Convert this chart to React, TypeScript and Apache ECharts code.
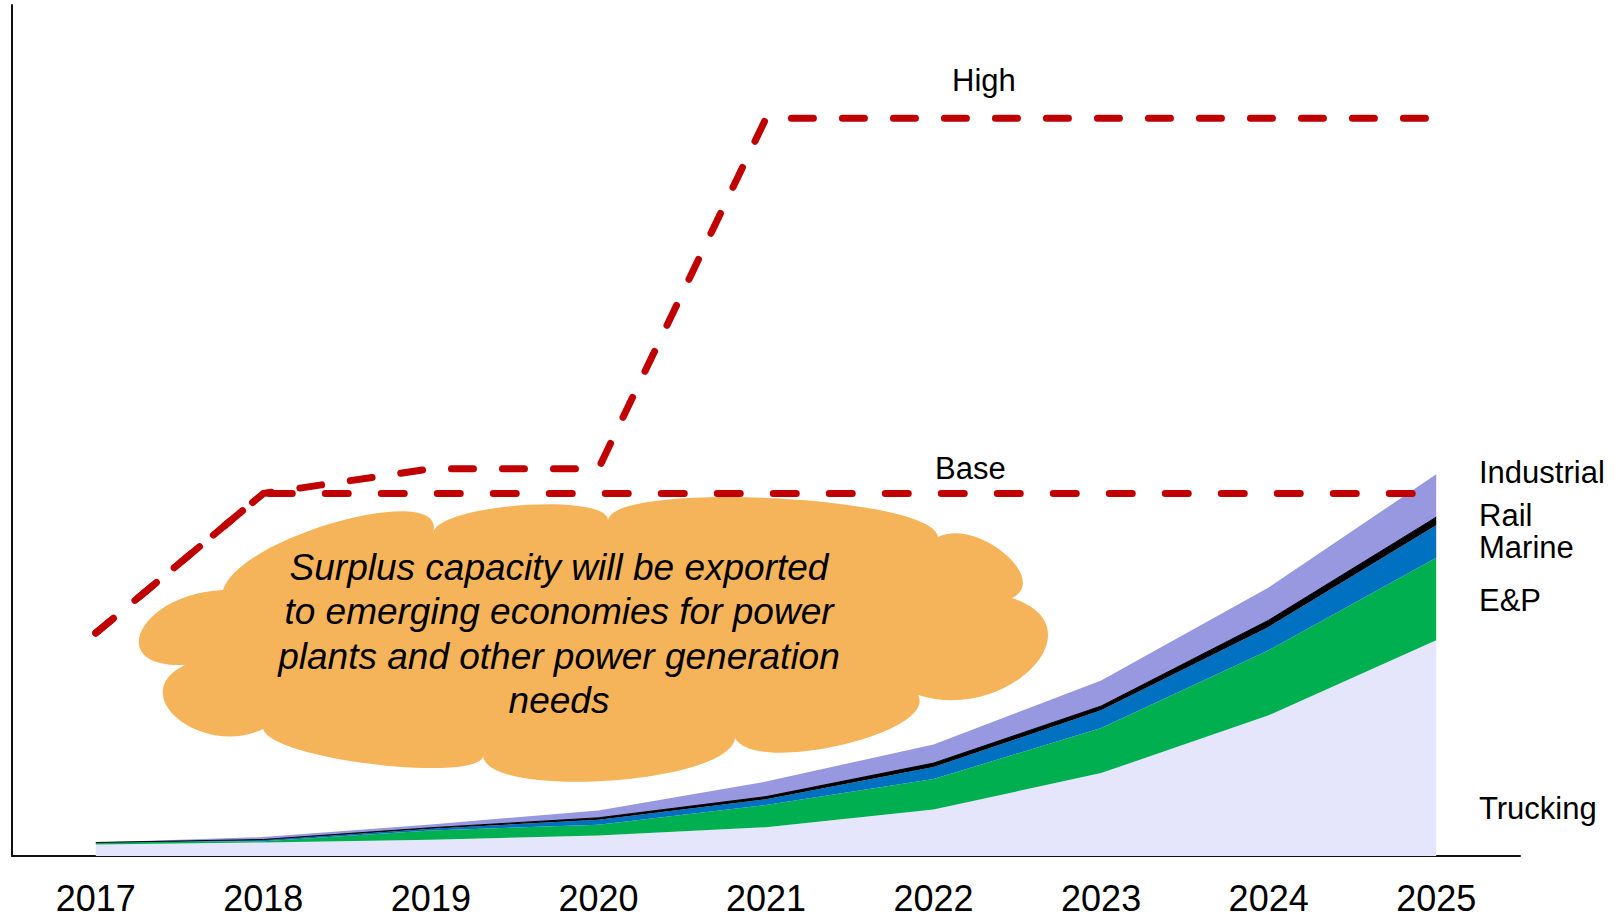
import React, { useEffect, useRef } from "react";
import * as echarts from "echarts";

const years = ["2017", "2018", "2019", "2020", "2021", "2022", "2023", "2024", "2025"];
const trucking = [1.35, 1.59, 1.91, 2.41, 3.38, 5.47, 9.74, 16.53, 25.35];
const eAndP = [0.24, 0.15, 1.09, 1.26, 2.62, 3.57, 5.3, 7.65, 9.69];
const marine = [0, 0.14, 0.2, 0.59, 0.66, 1.41, 2.08, 2.74, 3.84];
const rail = [0, 0.06, 0.12, 0.23, 0.32, 0.47, 0.5, 0.79, 0.94];
const industrial = [0, 0.28, 0.39, 0.86, 1.77, 2.19, 2.99, 3.84, 5.03];
const baseCase = [26.2, 42.6, 42.6, 42.6, 42.6, 42.6, 42.6, 42.6, 42.6];
const highCase = [26.2, 42.6, 45.5, 45.5, 86.7, 86.7, 86.7, 86.7, 86.7];

const seriesNames = ["Trucking", "E&P", "Marine", "Rail", "Industrial"];
const cloudText =
  "Surplus capacity will be exported\nto emerging economies for power\nplants and other power generation\nneeds";

// cloud outline: anchor, bulge, anchor, bulge ...
const cloudPts: number[][] = [
  [223, 590], [340, 521], [433, 533], [525, 505], [608, 522], [770, 498],
  [938, 537], [1004, 553], [1012, 598], [1032, 668], [918, 695], [842, 745],
  [735, 738], [605, 781], [483, 753], [380, 765], [263, 729], [178, 719],
  [185, 665], [142, 630],
];

function buildCloudPath(pts: number[][]) {
  const n = pts.length;
  let d = `M${pts[0][0]} ${pts[0][1]}`;
  for (let i = 0; i < n; i += 2) {
    const p0 = pts[i];
    const m = pts[i + 1];
    const p2 = pts[(i + 2) % n];
    const dx = (4 / 3) * (m[0] - (p0[0] + p2[0]) / 2);
    const dy = (4 / 3) * (m[1] - (p0[1] + p2[1]) / 2);
    d += ` C${(p0[0] + dx).toFixed(1)} ${(p0[1] + dy).toFixed(1)} ${(p2[0] + dx).toFixed(1)} ${(p2[1] + dy).toFixed(1)} ${p2[0]} ${p2[1]}`;
  }
  return d + " Z";
}

echarts.graphic.registerShape("cloud", echarts.graphic.extendPath(buildCloudPath(cloudPts), {}));

const FONT = "'Liberation Sans', Arial, Helvetica, sans-serif";

export default function App() {
  const ref = useRef<HTMLDivElement>(null);
  useEffect(() => {
    if (!ref.current) return;
    const chart = echarts.init(ref.current, undefined, { renderer: "svg" });
    const areaColors = ["#E5E5FC", "#00B050", "#0070C0", "#000000", "#9898E0"];
    const stackData = [trucking, eAndP, marine, rail, industrial];
    const areaSeries = stackData.map((d, i) => ({
      name: seriesNames[i],
      type: "line",
      stack: "total",
      data: d,
      showSymbol: false,
      symbol: "none",
      lineStyle: { width: i === 3 ? 1 : 0, color: areaColors[i] },
      areaStyle: { color: areaColors[i], opacity: 1 },
      z: 2,
    }));
    const dashSeries = [
      { name: "High", data: highCase, dash: [22, 29] },
      { name: "Base", data: baseCase, dash: [23, 33] },
    ].map((s) => ({
      name: s.name,
      type: "line",
      data: s.data,
      showSymbol: false,
      symbol: "none",
      lineStyle: { color: "#C00000", width: 7, type: s.dash, cap: "round", join: "round" },
      z: 5,
    }));
    const sideLabels = [
      { t: "Industrial", y: 472.6 },
      { t: "Rail", y: 515 },
      { t: "Marine", y: 547 },
      { t: "E&P", y: 600 },
      { t: "Trucking", y: 808.6 },
      { t: "High", y: 80, x: 952 },
      { t: "Base", y: 468, x: 935 },
    ];
    chart.setOption({
      animation: false,
      backgroundColor: "#ffffff",
      grid: { left: 12, right: 104, top: 5, bottom: 61, containLabel: false },
      xAxis: {
        type: "category",
        data: years,
        boundaryGap: true,
        axisLine: { show: true, lineStyle: { color: "#111", width: 2 } },
        axisTick: { show: false },
        axisLabel: { color: "#000", fontSize: 36, fontFamily: FONT, margin: 24 },
        splitLine: { show: false },
      },
      yAxis: {
        type: "value",
        min: 0,
        max: 100,
        axisLine: { show: true, lineStyle: { color: "#111", width: 2 } },
        axisTick: { show: false },
        axisLabel: { show: false },
        splitLine: { show: false },
      },
      series: [...areaSeries, ...dashSeries],
      graphic: [
        {
          type: "cloud",
          x: 0,
          y: 0,
          scaleX: 1,
          scaleY: 1,
          z: 1,
          silent: true,
          style: { fill: "#F5B45A" },
        },
        {
          type: "text",
          x: 559,
          y: 634,
          z: 3,
          silent: true,
          style: {
            text: cloudText,
            fill: "#000",
            fontSize: 37,
            fontStyle: "italic",
            fontFamily: FONT,
            lineHeight: 44.5,
            align: "center",
            verticalAlign: "middle",
          },
        },
        ...sideLabels.map((l) => ({
          type: "text",
          x: l.x ?? 1479,
          y: l.y,
          z: 3,
          silent: true,
          style: {
            text: l.t,
            fill: "#000",
            fontSize: 31,
            lineHeight: 29,
            fontFamily: FONT,
            align: "left",
            verticalAlign: "middle",
          },
        })),
      ],
    });
    return () => chart.dispose();
  }, []);
  return (
    <div
      ref={ref}
      style={{ position: "fixed", left: 0, top: 0, width: 1624, height: 917 }}
    />
  );
}
